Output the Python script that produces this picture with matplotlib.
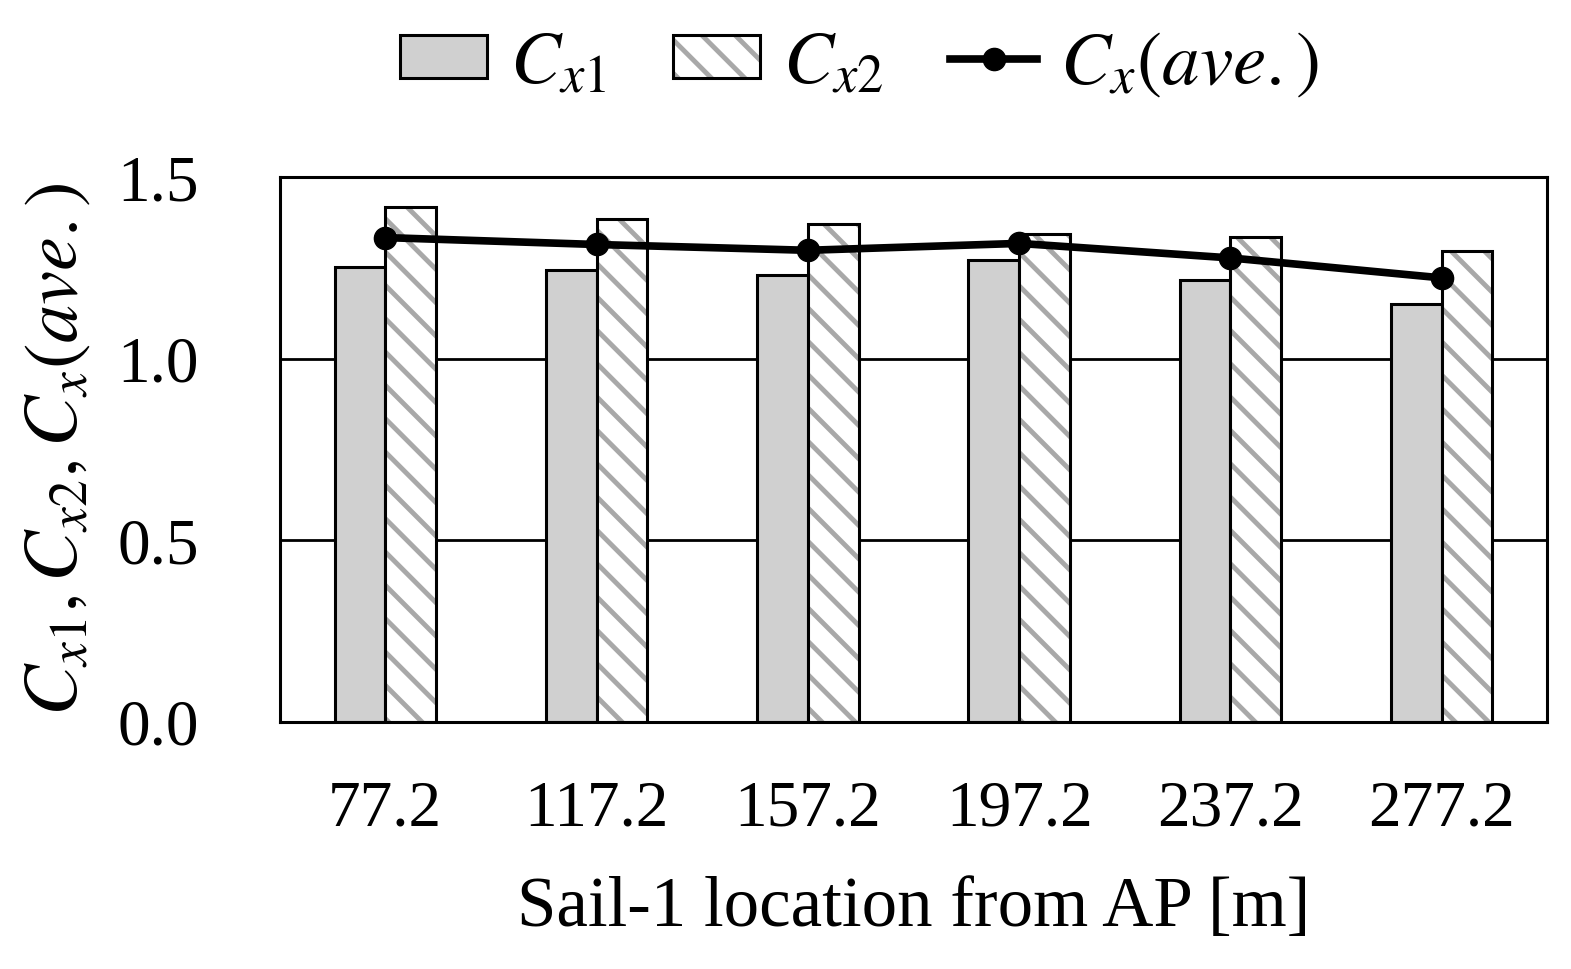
import numpy as np
import matplotlib
matplotlib.use("Agg")
import matplotlib.pyplot as plt
from matplotlib.patches import Patch
from matplotlib.legend_handler import HandlerTuple
from matplotlib.lines import Line2D

plt.rcParams['font.family'] = ['Liberation Serif', 'DejaVu Serif']
plt.rcParams['mathtext.fontset'] = 'stix'
plt.rcParams['hatch.linewidth'] = 3.5

locations = ["77.2", "117.2", "157.2", "197.2", "237.2", "277.2"]
cx1 = [1.254, 1.246, 1.230, 1.272, 1.217, 1.151]
cx2 = [1.418, 1.384, 1.371, 1.345, 1.335, 1.298]
cx_ave = [1.334, 1.315, 1.299, 1.318, 1.278, 1.223]

x = np.arange(len(locations))
w = 0.24
fill1 = '#d0d0d0'
hatch_gray = '#a8a8a8'

fig = plt.figure(figsize=(15.71, 9.69), dpi=100)
ax = fig.add_axes([0.178, 0.255, 0.807, 0.562])

# Cx1 bars: light grey fill
ax.bar(x - w / 2, cx1, w, color=fill1, edgecolor='black', linewidth=2.2, zorder=2)
# Cx2 bars: grey diagonal hatch, then black outline on top
ax.bar(x + w / 2, cx2, w, color='white', edgecolor=hatch_gray, hatch='\\',
       linewidth=0, zorder=2)
ax.bar(x + w / 2, cx2, w, fill=False, edgecolor='black', linewidth=2.2, zorder=3)

ax.plot(x, cx_ave, color='black', linewidth=5.5, marker='o', markersize=16, zorder=4)

ax.set_xlim(-0.5, len(locations) - 0.5)
ax.set_ylim(0, 1.5)
ax.set_yticks([0.0, 0.5, 1.0, 1.5])
ax.set_yticklabels(["0.0", "0.5", "1.0", "1.5"])
ax.set_xticks(x)
ax.set_xticklabels(locations)
ax.tick_params(axis='both', length=0, labelsize=47)
ax.tick_params(axis='x', pad=42)
ax.tick_params(axis='y', pad=58)
for sp in ax.spines.values():
    sp.set_linewidth(2.2)
ax.yaxis.grid(True, color='black', linewidth=2, zorder=0)
ax.set_axisbelow(True)

ax.set_xlabel("Sail-1 location from AP [m]", fontsize=51, labelpad=26)
ax.set_ylabel(r"$C_{x1}, C_{x2}, C_x(ave.)$", fontsize=55, labelpad=18)

h1 = Patch(facecolor=fill1, edgecolor='black', linewidth=2.2)
h2a = Patch(facecolor='white', edgecolor=hatch_gray, hatch='\\', linewidth=0)
h2b = Patch(fill=False, edgecolor='black', linewidth=2.2)
h3 = Line2D([], [], color='black', linewidth=5.5, marker='o', markersize=16)
fig.legend([h1, (h2a, h2b), h3],
           [r"$C_{x1}$", r"$C_{x2}$", r"$C_x(ave.)$"],
           handler_map={tuple: HandlerTuple(ndivide=1, pad=0)},
           loc='center', bbox_to_anchor=(0.547, 0.933), ncol=3, frameon=False,
           fontsize=54, handlelength=1.16, handleheight=0.5, columnspacing=0.9,
           handletextpad=0.3)

fig.savefig("out.png", dpi=100)
